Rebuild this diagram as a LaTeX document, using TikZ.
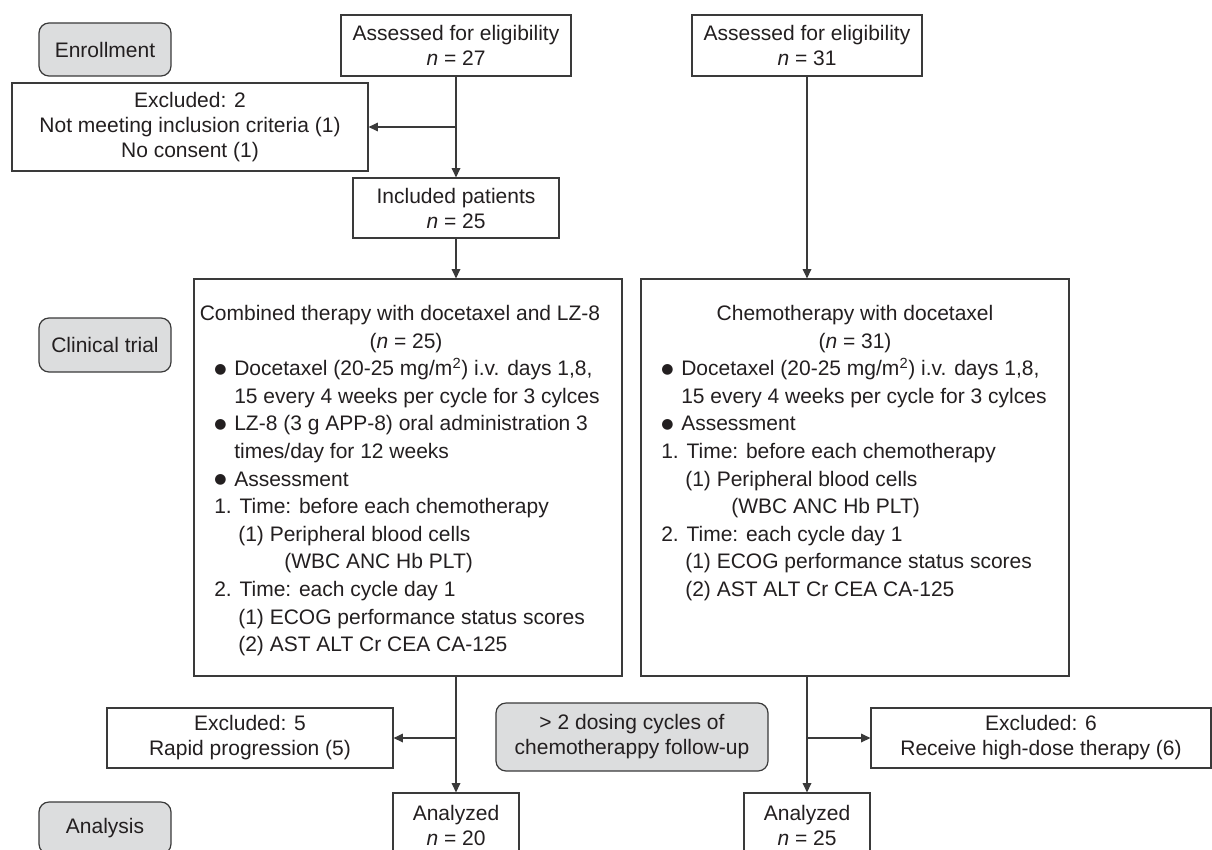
\documentclass[tikz,border=0pt]{standalone}
\usepackage{fontspec}
\setmainfont{Liberation Sans}
\newfontfamily\dejavu{DejaVu Sans}
\usetikzlibrary{arrows.meta}
\definecolor{boxgray}{HTML}{DCDDDE}
\definecolor{linecol}{HTML}{3A3A3A}
\definecolor{txt}{HTML}{231F20}
\newcommand\fsize{\fontsize{15.75}{18.75}\selectfont}
\newcommand\blt{\makebox[15pt][l]{\raisebox{1.8pt}{\dejavu\fontsize{10.5}{10.5}\selectfont ●}}}
\tikzset{
  box/.style={draw=linecol, line width=0.9pt, fill=white, inner sep=0pt, align=center, text=txt, font=\fsize},
  grbox/.style={box, fill=boxgray, rounded corners=7.5pt},
  ln/.style={anchor=base west, inner sep=0pt, text=txt, font=\fsize},
  lnc/.style={anchor=base, inner sep=0pt, text=txt, font=\fsize},
  conn/.style={draw=linecol, line width=0.9pt},
  arr/.style={conn, -{Triangle[length=7pt,width=6.5pt]}},
}
\begin{document}
\begin{tikzpicture}[x=0.75pt,y=-0.75pt]
\useasboundingbox (0,0) rectangle (1212,849);
\clip (0,0) rectangle (1212,849);
\fill[white] (0,0) rectangle (1212,849);

% stage labels
\node[grbox, minimum width=99pt, minimum height=39.75pt] (enroll) at (105,49.5) {Enrollment};
\node[grbox, minimum width=99pt, minimum height=40.5pt] (clin) at (105,345) {Clinical trial};
\node[grbox, minimum width=99pt, minimum height=39pt] (analysis) at (105,828) {Analysis};
\node[grbox, minimum width=204pt, minimum height=51pt] (dose) at (632,737) {> 2 dosing cycles of\\chemotherappy follow-up};

% top boxes
\node[box, minimum width=172.5pt, minimum height=45.75pt] (a27) at (456,45.5) {Assessed for eligibility\\\textit{n} = 27};
\node[box, minimum width=172.5pt, minimum height=45.75pt] (a31) at (807,45.5) {Assessed for eligibility\\\textit{n} = 31};
\node[box, minimum width=267pt, minimum height=66pt] (exc2) at (190,127) {Excluded: 2\\Not meeting inclusion criteria (1)\\No consent (1)};
\node[box, minimum width=154.5pt, minimum height=45pt] (incl) at (456,208) {Included patients\\\textit{n} = 25};

% big boxes
\node[box, minimum width=321pt, minimum height=297.75pt] (comb) at (408,477.5) {};
\node[box, minimum width=321pt, minimum height=297.75pt] (chemo) at (855,477.5) {};

\node[lnc] (c1) at (400,320.5) {Combined therapy with docetaxel and LZ-8};
\node[lnc] (c2) at (406,348.1) {(\textit{n} = 25)};
\node[ln] (c3) at (214,375.7) {\blt Docetaxel (20-25 mg/m\textsuperscript{2}) i.v. days 1,8,};
\node[ln] (c4) at (234,403.3) {15 every 4 weeks per cycle for 3 cylces};
\node[ln] (c5) at (214,430.9) {\blt LZ-8 (3 g APP-8) oral administration 3};
\node[ln] (c6) at (234,458.5) {times/day for 12 weeks};
\node[ln] (c7) at (214,486.1) {\blt Assessment};
\node[ln] (c8) at (214,513.7) {1. Time: before each chemotherapy};
\node[ln] (c9) at (238,541.3) {(1) Peripheral blood cells};
\node[ln] (c10) at (284,568.9) {(WBC ANC Hb PLT)};
\node[ln] (c11) at (214,596.5) {2. Time: each cycle day 1};
\node[ln] (c12) at (238,624.1) {(1) ECOG performance status scores};
\node[ln] (c13) at (238,651.7) {(2) AST ALT Cr CEA CA-125};

\node[lnc] (d1) at (855,320.5) {Chemotherapy with docetaxel};
\node[lnc] (d2) at (855,348.1) {(\textit{n} = 31)};
\node[ln] (d3) at (661,375.7) {\blt Docetaxel (20-25 mg/m\textsuperscript{2}) i.v. days 1,8,};
\node[ln] (d4) at (681,403.3) {15 every 4 weeks per cycle for 3 cylces};
\node[ln] (d5) at (661,430.9) {\blt Assessment};
\node[ln] (d6) at (661,458.5) {1. Time: before each chemotherapy};
\node[ln] (d7) at (685,486.1) {(1) Peripheral blood cells};
\node[ln] (d8) at (731,513.7) {(WBC ANC Hb PLT)};
\node[ln] (d9) at (661,541.3) {2. Time: each cycle day 1};
\node[ln] (d10) at (685,568.9) {(1) ECOG performance status scores};
\node[ln] (d11) at (685,596.5) {(2) AST ALT Cr CEA CA-125};

% bottom boxes
\node[box, minimum width=214.5pt, minimum height=45pt] (exc5) at (250,738) {Excluded: 5\\Rapid progression (5)};
\node[box, minimum width=255pt, minimum height=45pt] (exc6) at (1041,738) {Excluded: 6\\Receive high-dose therapy (6)};
\node[box, minimum width=94.5pt, minimum height=48.75pt] (an20) at (456,825.5) {Analyzed\\\textit{n} = 20};
\node[box, minimum width=94.5pt, minimum height=48.75pt] (an25) at (807,825.5) {Analyzed\\\textit{n} = 25};

% connectors
\draw[arr] (a27.south) -- (incl.north);
\draw[arr] (a27.south |- exc2.east) -- (exc2.east);
\draw[arr] (incl.south) -- (incl.south |- comb.north);
\draw[arr] (a31.south) -- (a31.south |- chemo.north);
\draw[arr] (an20.north |- comb.south) -- (an20.north);
\draw[arr] (an20.north |- exc5.east) -- (exc5.east);
\draw[arr] (an25.north |- chemo.south) -- (an25.north);
\draw[arr] (an25.north |- exc6.west) -- (exc6.west);
\end{tikzpicture}
\end{document}
